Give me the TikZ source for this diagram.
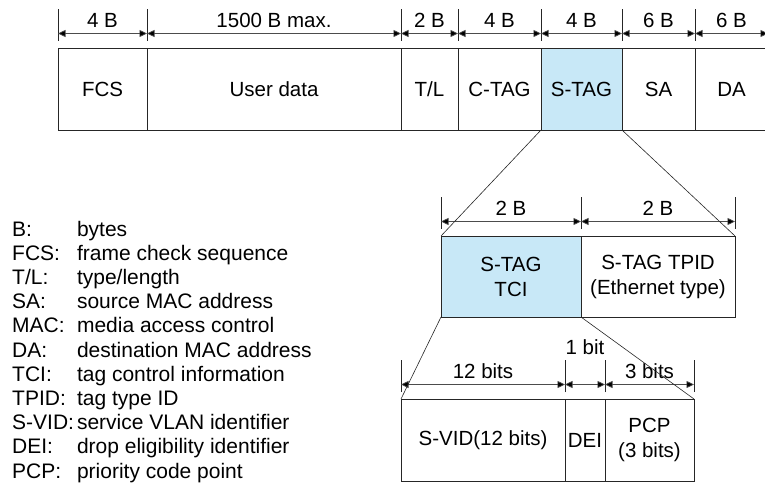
\documentclass[tikz,border=0pt]{standalone}
\usepackage{fontspec}
\setmainfont{Liberation Sans}
\usepackage{xcolor}
\usepackage{tikz}
\usetikzlibrary{arrows.meta, positioning, calc}
\definecolor{tagblue}{RGB}{200,232,247}
\tikzstyle{field} = [rectangle, draw=black!85, line width=0.7pt, minimum height=82pt, inner sep=0pt, outer sep=0pt, align=center, anchor=north west, font=\fontsize{20.5}{25}\selectfont]
\tikzstyle{tick} = [draw=black!85, line width=0.7pt]
\tikzstyle{dim} = [draw=black!70, line width=0.7pt, {Triangle[length=7.5pt,width=7pt,fill=black]}-{Triangle[length=7.5pt,width=7pt,fill=black]}]
\tikzstyle{fan} = [draw=black!85, line width=0.6pt]
\tikzstyle{dimlabel} = [midway, yshift=13.5pt, inner sep=0pt, text=black, font=\fontsize{20.5}{25}\selectfont]

\begin{document}
\begin{tikzpicture}[x=1pt, y=-1pt]
\useasboundingbox (0,0) rectangle (765,484);

% Frame with S-TAG and C-TAG
\node[field, minimum width=89pt] (fcs) at (58,48) {FCS};
\node[field, minimum width=254pt, right=0pt of fcs] (data) {User data};
\node[field, minimum width=57pt, right=0pt of data] (tl) {T/L};
\node[field, minimum width=83pt, right=0pt of tl] (ctag) {C-TAG};
\node[field, minimum width=81pt, fill=tagblue, right=0pt of ctag] (stag) {S-TAG};
\node[field, minimum width=73pt, right=0pt of stag] (sa) {SA};
\node[field, minimum width=73pt, right=0pt of sa] (da) {DA};

% S-TAG fields
\node[field, minimum width=140pt, minimum height=81pt, fill=tagblue] (tci) at (441,236) {S-TAG\\TCI};
\node[field, minimum width=154pt, minimum height=81pt, right=0pt of tci] (tpid) {S-TAG TPID\\(Ethernet type)};

% TCI fields
\node[field, minimum width=164pt] (svid) at (401,399) {S-VID(12 bits)};
\node[field, minimum width=40pt, right=0pt of svid] (dei) {DEI};
\node[field, minimum width=89pt, right=0pt of dei] (pcp) {PCP\\(3 bits)};

% Sizes
\foreach \f/\t in {fcs/4 B, data/1500 B max., tl/2 B, ctag/4 B, stag/4 B, sa/6 B, da/6 B, tci/2 B, tpid/2 B, svid/12 bits, dei/, pcp/3 bits} {
  \draw[tick] ([yshift=7pt]\f.north west) -- ([yshift=39pt]\f.north west);
  \draw[tick] ([yshift=7pt]\f.north east) -- ([yshift=39pt]\f.north east);
  \draw[dim] ([yshift=14.5pt]\f.north west) -- node[dimlabel] {\t} ([yshift=14.5pt]\f.north east);
}
\node[inner sep=0pt, font=\fontsize{20.5}{25}\selectfont] (onebit) at ([yshift=52pt]dei.north) {1 bit};

% Expansion lines
\draw[fan] (stag.south west) -- (tci.north west);
\draw[fan] (stag.south east) -- (tpid.north east);
\draw[fan] (tci.south west) -- (svid.north west);
\draw[fan] (tci.south east) -- (pcp.north east);

% Abbreviations
\node[anchor=north west, inner sep=0pt, font=\fontsize{21}{24.2}\selectfont] (legend) at (12,219) {%
\begin{tabular}{@{}l@{\hspace{3pt}}l@{}}
B: & bytes\\
FCS: & frame check sequence\\
T/L: & type/length\\
SA: & source MAC address\\
MAC: & media access control\\
DA: & destination MAC address\\
TCI: & tag control information\\
TPID: & tag type ID\\
S-VID: & service VLAN identifier\\
DEI: & drop eligibility identifier\\
PCP: & priority code point
\end{tabular}};
\end{tikzpicture}
\end{document}
